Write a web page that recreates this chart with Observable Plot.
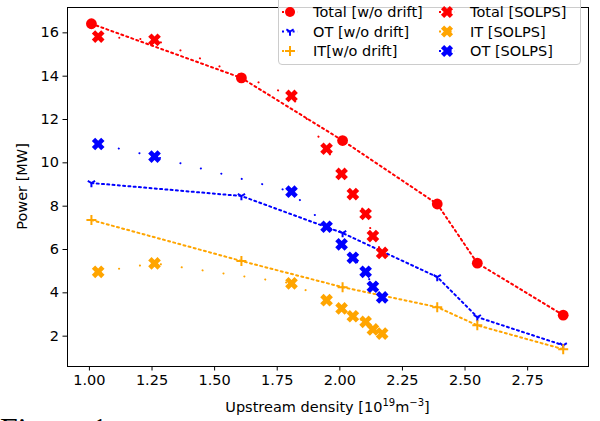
<!DOCTYPE html>
<html><head><meta charset="utf-8">
<script src="https://cdn.jsdelivr.net/npm/d3@7"></script>
<script src="https://cdn.jsdelivr.net/npm/@observablehq/plot@0.6"></script>
<style>
body{margin:0;background:#fff;font-family:"DejaVu Sans",sans-serif;}
#wrap{position:relative;width:600px;height:421px;overflow:hidden;background:#fff;}
#chart{position:absolute;left:0;top:0;}
#legend{position:absolute;left:278px;top:-8px;width:303px;height:73px;box-sizing:border-box;border:1px solid #cccccc;border-radius:4px;background:rgba(255,255,255,0.8);}
#legend svg{position:absolute;left:-1px;top:-1px;}
#caption{position:absolute;left:0;top:413px;font-family:"Liberation Serif",serif;font-size:32px;line-height:32px;color:#000;white-space:nowrap;}
</style>
</head><body>
<div id="wrap"><div id="chart"></div><div id="legend"></div><div id="caption">Figure 1</div></div>
<script>
// ---- data ----
const driftDensity = [1.008, 1.607, 2.011, 2.389, 2.549, 2.892];
const driftTotal   = [16.42, 13.92, 11.03, 8.10, 5.37, 2.97];
const driftOT      = [9.07, 8.47, 6.76, 4.73, 2.88, 1.58];
const driftIT      = [7.36, 5.47, 4.26, 3.34, 2.50, 1.40];

const solpsDensity = [1.035, 1.26, 1.807, 1.947, 2.007, 2.052, 2.103, 2.132, 2.169];
const solpsTotal   = [15.83, 15.68, 13.09, 10.65, 9.49, 8.56, 7.64, 6.62, 5.84];
const solpsOT      = [10.87, 10.29, 8.67, 7.05, 6.24, 5.62, 4.97, 4.28, 3.79];
const solpsIT      = [4.97, 5.36, 4.44, 3.66, 3.28, 2.92, 2.66, 2.31, 2.12];

const xTicks = [1.00, 1.25, 1.50, 1.75, 2.00, 2.25, 2.50, 2.75];
const yTicks = [2, 4, 6, 8, 10, 12, 14, 16];

const legendLabels = ["Total [w/o drift]", "OT [w/o drift]", "IT[w/o drift]", "Total [SOLPS]", "IT [SOLPS]", "OT [SOLPS]"];

// ---- custom matplotlib-like symbols ----
const symXFilled = {draw(ctx, size){
  const r = Math.sqrt(size/Math.PI), R = r, w = r*0.36, s = Math.SQRT1_2;
  const pts = [[-w,-R],[w,-R],[w,-w],[R,-w],[R,w],[w,w],[w,R],[-w,R],[-w,w],[-R,w],[-R,-w],[-w,-w]]
    .map(([x,y]) => [(x-y)*s, (x+y)*s]);
  ctx.moveTo(pts[0][0], pts[0][1]);
  for (let i = 1; i < pts.length; i++) ctx.lineTo(pts[i][0], pts[i][1]);
  ctx.closePath();
}};
const symTriDown = {draw(ctx, size){
  const L = Math.sqrt(size/Math.PI);
  ctx.moveTo(0,0); ctx.lineTo(0, L);
  ctx.moveTo(0,0); ctx.lineTo(-0.866*L, -0.5*L);
  ctx.moveTo(0,0); ctx.lineTo(0.866*L, -0.5*L);
}};
const symPlus = {draw(ctx, size){
  const L = Math.sqrt(size/Math.PI);
  ctx.moveTo(-L,0); ctx.lineTo(L,0);
  ctx.moveTo(0,-L); ctx.lineTo(0,L);
}};

const drift = driftDensity.map((x,i) => ({x, total: driftTotal[i], ot: driftOT[i], it: driftIT[i]}));
const solps = solpsDensity.map((x,i) => ({x, total: solpsTotal[i], ot: solpsOT[i], it: solpsIT[i]}));

const RED = "#ff0000", BLUE = "#0000ff", ORANGE = "#ffa500";
const dotted = {strokeWidth: 2, strokeDasharray: "2,3.3"};
const sparse = {strokeWidth: 2, strokeDasharray: "0.1,21", strokeLinecap: "round"};

const plot = Plot.plot({
  width: 600, height: 421,
  marginLeft: 67, marginRight: 12, marginTop: 7, marginBottom: 55,
  style: {fontFamily: "DejaVu Sans, sans-serif", fontSize: "14.5px", color: "#000", background: "transparent"},
  x: {domain: [0.9125, 2.993], ticks: xTicks, tickFormat: d3.format(".2f"), tickSize: 4.5, tickPadding: 4, label: null},
  y: {domain: [0.6, 17.17], ticks: yTicks, tickSize: 4.5, tickPadding: 4, label: null},
  marks: [
    Plot.line(drift, {x: "x", y: "total", stroke: RED, ...dotted}),
    Plot.dot(drift, {x: "x", y: "total", r: 5.4, fill: RED, stroke: "none"}),
    Plot.line(drift, {x: "x", y: "ot", stroke: BLUE, ...dotted}),
    Plot.dot(drift, {x: "x", y: "ot", r: 4.2, symbol: symTriDown, fill: "none", stroke: BLUE, strokeWidth: 2}),
    Plot.line(drift, {x: "x", y: "it", stroke: ORANGE, ...dotted}),
    Plot.dot(drift, {x: "x", y: "it", r: 5, symbol: symPlus, fill: "none", stroke: ORANGE, strokeWidth: 2}),
    Plot.line(solps, {x: "x", y: "total", stroke: RED, ...sparse}),
    Plot.dot(solps, {x: "x", y: "total", r: 6.6, symbol: symXFilled, fill: RED, stroke: "none"}),
    Plot.line(solps, {x: "x", y: "it", stroke: ORANGE, ...sparse}),
    Plot.dot(solps, {x: "x", y: "it", r: 6.6, symbol: symXFilled, fill: ORANGE, stroke: "none"}),
    Plot.line(solps, {x: "x", y: "ot", stroke: BLUE, ...sparse}),
    Plot.dot(solps, {x: "x", y: "ot", r: 6.6, symbol: symXFilled, fill: BLUE, stroke: "none"}),
    Plot.frame({stroke: "#000", strokeWidth: 1})
  ]
});
document.getElementById("chart").appendChild(plot);

// axis titles
const svg = d3.select(plot);
const xl = svg.append("text").attr("x", 327.5).attr("y", 412).attr("text-anchor", "middle")
  .attr("font-size", "14.5px").attr("fill", "#000");
xl.append("tspan").text("Upstream density [10");
xl.append("tspan").attr("font-size", "10px").attr("dy", -6).text("19");
xl.append("tspan").attr("dy", 6).text("m");
xl.append("tspan").attr("font-size", "10px").attr("dy", -6).text("\u22123");
xl.append("tspan").attr("dy", 6).text("]");
svg.append("text").attr("transform", "translate(27,186.5) rotate(-90)").attr("text-anchor", "middle")
  .attr("font-size", "14.5px").attr("fill", "#000").text("Power [MW]");

// legend
const lg = d3.select("#legend").append("svg").attr("width", 305).attr("height", 75);
const entries = [
  {col: 0, row: 0, color: RED, sym: "circle"},
  {col: 0, row: 1, color: BLUE, sym: symTriDown},
  {col: 0, row: 2, color: ORANGE, sym: symPlus},
  {col: 1, row: 0, color: RED, sym: symXFilled},
  {col: 1, row: 1, color: ORANGE, sym: symXFilled},
  {col: 1, row: 2, color: BLUE, sym: symXFilled}
];
entries.forEach((e, i) => {
  const mx = e.col === 0 ? 12 : 169, my = 20 + e.row * 19.5;
  lg.append("line").attr("x1", mx - 8).attr("x2", mx + 8).attr("y1", my).attr("y2", my)
    .attr("stroke", e.color).attr("stroke-width", 2).attr("stroke-dasharray", "2,3.3");
  if (e.sym === "circle") {
    lg.append("circle").attr("cx", mx).attr("cy", my).attr("r", 5).attr("fill", e.color);
  } else {
    const p = d3.path();
    const filled = e.sym === symXFilled;
    const r = filled ? 6.3 : (e.sym === symPlus ? 5 : 4.2);
    e.sym.draw(p, r * r * Math.PI);
    lg.append("path").attr("d", p.toString()).attr("transform", `translate(${mx},${my})`)
      .attr("fill", filled ? e.color : "none").attr("stroke", filled ? "none" : e.color).attr("stroke-width", 2);
  }
  lg.append("text").attr("x", e.col === 0 ? 35 : 192).attr("y", my).attr("dy", "0.36em")
    .attr("font-family", "DejaVu Sans, sans-serif").attr("font-size", "14.5px").attr("fill", "#000")
    .text(legendLabels[i]);
});
</script>
</body></html>
